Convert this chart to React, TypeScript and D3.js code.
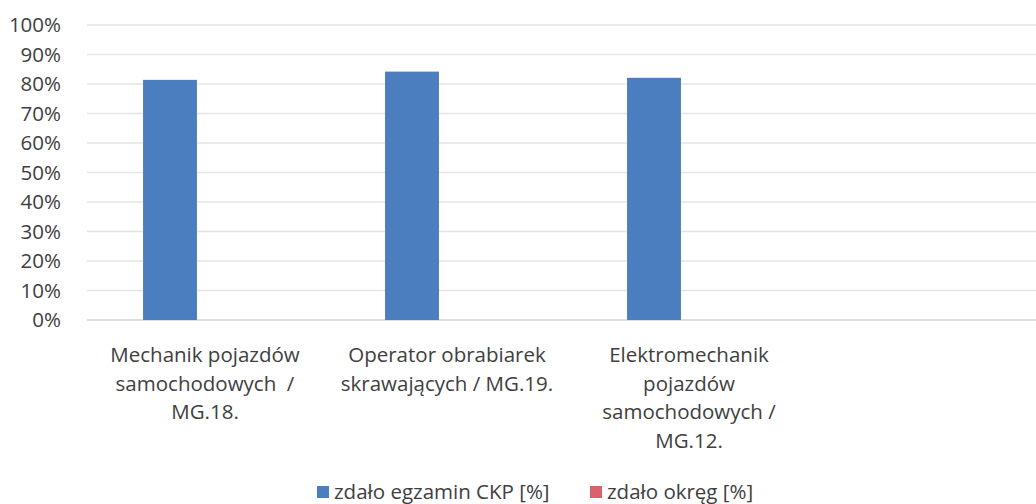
import * as d3 from "d3";

const categories = [
  "Mechanik pojazdów\nsamochodowych  /\nMG.18.",
  "Operator obrabiarek\nskrawających / MG.19.",
  "Elektromechanik\npojazdów\nsamochodowych /\nMG.12.",
  "",
];

const seriesNames = ["zdało egzamin CKP [%]", "zdało okręg [%]"];
const seriesColors = ["#4a7ebf", "#d9626b"];

const ckpValues = [0.814, 0.842, 0.821, null];
const okregValues = [null, null, null, null];

const yTicks = [0, 0.1, 0.2, 0.3, 0.4, 0.5, 0.6, 0.7, 0.8, 0.9, 1];

const W = 1036;
const H = 504;
const FONT = "'Open Sans', sans-serif";
const TEXT = "#404040";
const FS = 20.5;

export default function App() {
  const plot = { left: 84, right: 1052, top: 25, bottom: 320 };

  const y = d3.scaleLinear().domain([0, 1]).range([plot.bottom, plot.top]);

  const x0 = d3
    .scaleBand()
    .domain(categories.map((_, i) => String(i)))
    .range([plot.left, plot.right])
    .paddingInner(0.488)
    .paddingOuter(0.244);

  const x1 = d3
    .scaleBand()
    .domain(seriesNames)
    .range([0, x0.bandwidth()])
    .paddingInner(0.23);

  const series = [ckpValues, okregValues];

  return (
    <svg
      width={W}
      height={H}
      style={{ position: "absolute", left: 0, top: 0, background: "#fff" }}
      fontFamily={FONT}
    >
      {/* Grid */}
      {yTicks.map((t) => (
        <line
          key={t}
          x1={87}
          x2={W}
          y1={y(t)}
          y2={y(t)}
          stroke={t === 0 ? "#d4d4d4" : "#e4e4e4"}
          strokeWidth={1.3}
        />
      ))}

      {/* Y labels */}
      {yTicks.map((t) => (
        <text
          key={t}
          x={61}
          y={y(t)}
          dy="0.36em"
          textAnchor="end"
          fontSize={FS}
          fill={TEXT}
        >
          {d3.format(".0%")(t)}
        </text>
      ))}

      {/* Bars */}
      {series.map((vals, s) =>
        vals.map((v, i) =>
          v == null ? null : (
            <rect
              key={`${s}-${i}`}
              x={x0(String(i))! + x1(seriesNames[s])!}
              width={x1.bandwidth()}
              y={y(v)}
              height={y(0) - y(v)}
              fill={seriesColors[s]}
            />
          )
        )
      )}

      {/* Category labels */}
      {categories.map((c, i) => (
        <text
          key={i}
          x={x0(String(i))! + x0.bandwidth() / 2}
          y={362}
          textAnchor="middle"
          fontSize={FS}
          fill={TEXT}
          style={{ whiteSpace: "pre" }}
        >
          {c.split("\n").map((line, j) => (
            <tspan key={j} x={x0(String(i))! + x0.bandwidth() / 2} dy={j === 0 ? 0 : 28.7}>
              {line}
            </tspan>
          ))}
        </text>
      ))}

      {/* Legend */}
      {[
        { x: 317, tx: 334 },
        { x: 590, tx: 607 },
      ].map((p, s) => (
        <g key={s}>
          <rect x={p.x} y={486} width={12} height={12} fill={seriesColors[s]} />
          <text x={p.tx} y={499} fontSize={FS} fill={TEXT}>
            {seriesNames[s]}
          </text>
        </g>
      ))}
    </svg>
  );
}
